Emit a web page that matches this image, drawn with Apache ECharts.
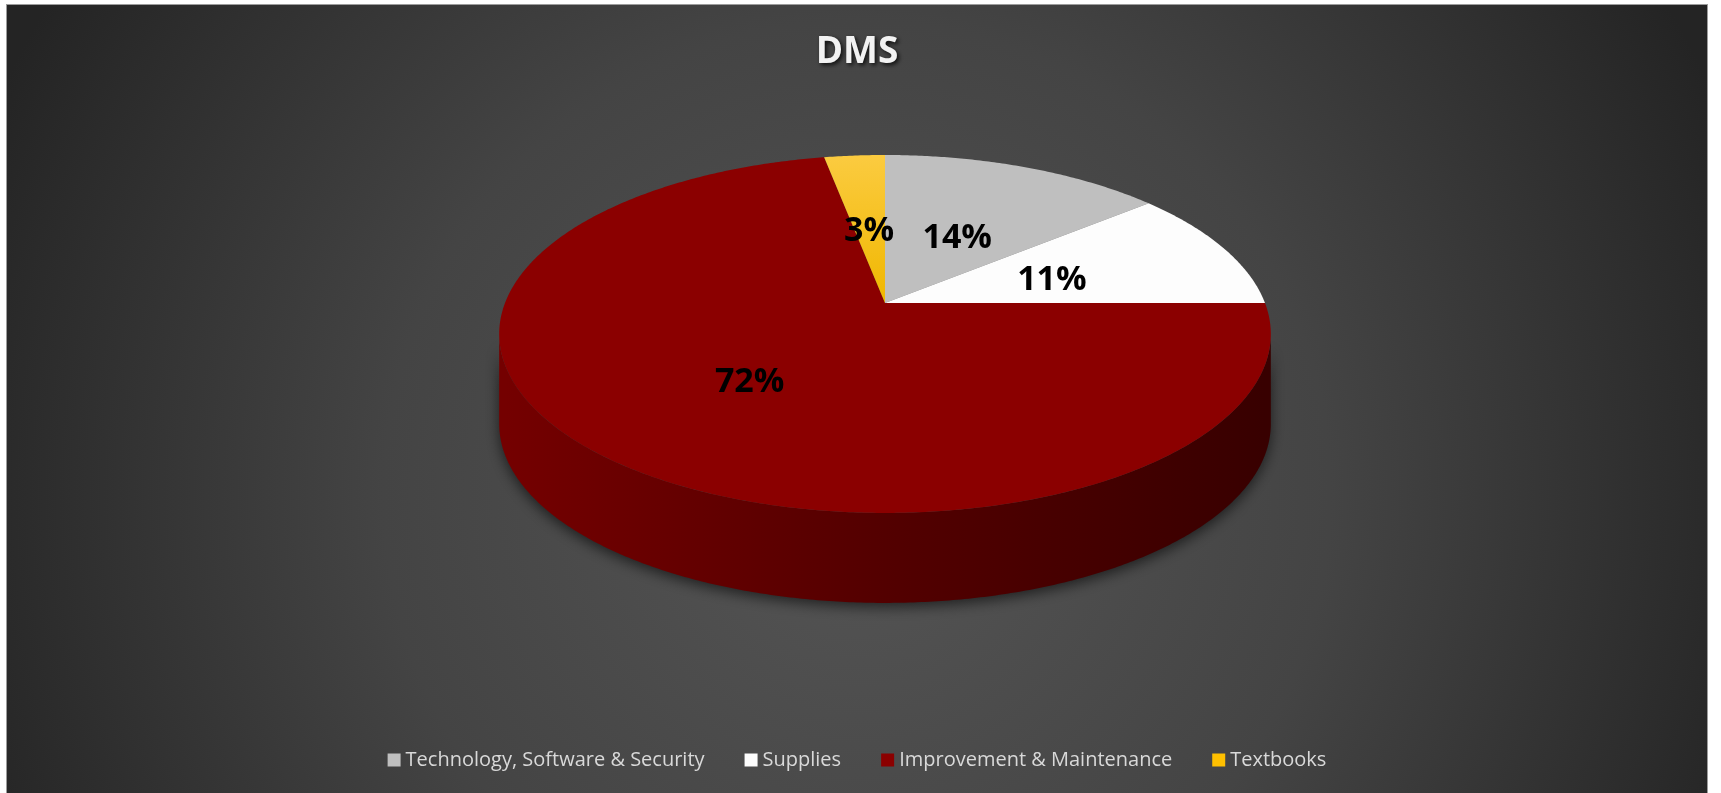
<!DOCTYPE html>
<html>
<head>
<meta charset="utf-8">
<script src="https://cdn.jsdelivr.net/npm/echarts@6/dist/echarts.min.js"></script>
<style>
  html, body { margin: 0; padding: 0; background: #fff; }
  #chart {
    position: absolute; left: 6px; top: 4px;
    width: 1700px; height: 789px;
    border: 1px solid #9c9c9c; border-bottom: none;
  }
</style>
</head>
<body>
<div id="chart"></div>
<script>
const categories = ['Technology, Software & Security', 'Supplies', 'Improvement & Maintenance', 'Textbooks'];
const shares = [14, 11, 72, 3];
const sliceColors = ['#BFBFBF', '#FDFDFD', '#8B0000', '#FFC000'];

const total = shares.reduce((a, b) => a + b, 0);
const starts = shares.map((v, i) => shares.slice(0, i).reduce((a, b) => a + b, 0));

// tilted pie geometry (px, chart coords)
const CX = 878, CY = 298, RX = 380, RY = 173.6, K = 0.173, H = 90;
const proj = (t, r) => {
  const rad = t * Math.PI / 180;
  const u = r * Math.sin(rad), w = -r * Math.cos(rad);
  const s = 1 / (1 - K * w);
  return [CX + RX * u * s, CY + RY * w * s];
};
const arc = (a0, a1, dy) => {
  const pts = [];
  for (let t = a0; t < a1; t += 0.5) {
    const p = proj(t, 1);
    pts.push([p[0], p[1] + dy]);
  }
  const p = proj(a1, 1);
  pts.push([p[0], p[1] + dy]);
  return pts;
};
const toDeg = (v) => v / total * 360;
const tangent = Math.acos(-K) * 180 / Math.PI;

const chart = echarts.init(document.getElementById('chart'));

const faceSeries = categories.map((name, i) => ({
  type: 'custom',
  name: name,
  coordinateSystem: 'none',
  silent: true,
  z: 3,
  itemStyle: { color: sliceColors[i] },
  data: [[starts[i], shares[i]]],
  renderItem: (params, api) => {
    const a0 = toDeg(api.value(0)), a1 = toDeg(api.value(0) + api.value(1));
    const fill = i === 3
      ? new echarts.graphic.LinearGradient(0, 0, 0, 1, [
          { offset: 0, color: '#FBCB40' }, { offset: 1, color: '#F0B700' }])
      : api.visual('color');
    return {
      type: 'polygon',
      shape: { points: [proj(0, 0)].concat(arc(a0, a1, 0)) },
      style: { fill: fill }
    };
  }
}));

// front wall of the cylinder
const wallSeries = {
  type: 'custom',
  name: 'wall',
  coordinateSystem: 'none',
  silent: true,
  z: 2,
  data: shares.map((v, i) => [starts[i], v]),
  renderItem: (params, api) => {
    const a0 = Math.max(toDeg(api.value(0)), tangent);
    const a1 = Math.min(toDeg(api.value(0) + api.value(1)), 360 - tangent);
    if (a1 <= a0) return { type: 'group', children: [] };
    const top = arc(a0, a1, 0);
    const bottom = arc(a0, a1, H).reverse();
    return {
      type: 'polygon',
      shape: { points: top.concat(bottom) },
      style: {
        fill: new echarts.graphic.LinearGradient(CX - RX, 0, CX + RX, 0, [
          { offset: 0, color: '#740000' },
          { offset: 0.5, color: '#530000' },
          { offset: 1, color: '#380000' }
        ], true),
        shadowBlur: 14,
        shadowColor: 'rgba(0,0,0,0.6)',
        shadowOffsetY: 4
      }
    };
  }
};

const labelSeries = {
  type: 'custom',
  name: 'labels',
  coordinateSystem: 'none',
  silent: true,
  z: 5,
  data: shares.map((v, i) => [starts[i], v]),
  renderItem: (params, api) => {
    const mid = toDeg(api.value(0) + api.value(1) / 2);
    const p = proj(mid, api.value(1) > 50 ? 0.52 : 0.48);
    return {
      type: 'text',
      x: p[0], y: p[1] + 5,
      style: {
        text: Math.round(api.value(1) / total * 100) + '%',
        font: 'bold 34px "Open Sans"',
        fill: '#000',
        align: 'center',
        verticalAlign: 'middle'
      }
    };
  }
};

chart.setOption({
  backgroundColor: new echarts.graphic.RadialGradient(0.5, 0.62, 1.2, [
    { offset: 0, color: '#555555' },
    { offset: 0.5, color: '#444444' },
    { offset: 1, color: '#242424' }
  ]),
  title: {
    text: 'DMS',
    left: 'center',
    top: 24,
    textStyle: {
      color: '#F2F2F2',
      fontFamily: 'Open Sans',
      fontWeight: 'bold',
      fontSize: 37,
      textShadowColor: 'rgba(0,0,0,0.8)',
      textShadowBlur: 4,
      textShadowOffsetX: 2,
      textShadowOffsetY: 2
    }
  },
  legend: {
    data: categories,
    left: 'center',
    top: 740,
    icon: 'rect',
    itemWidth: 13,
    itemHeight: 13,
    itemGap: 40,
    selectedMode: false,
    textStyle: { color: '#D9D9D9', fontFamily: 'Open Sans', fontSize: 20 }
  },
  series: [wallSeries].concat(faceSeries, [labelSeries])
});
</script>
</body>
</html>
